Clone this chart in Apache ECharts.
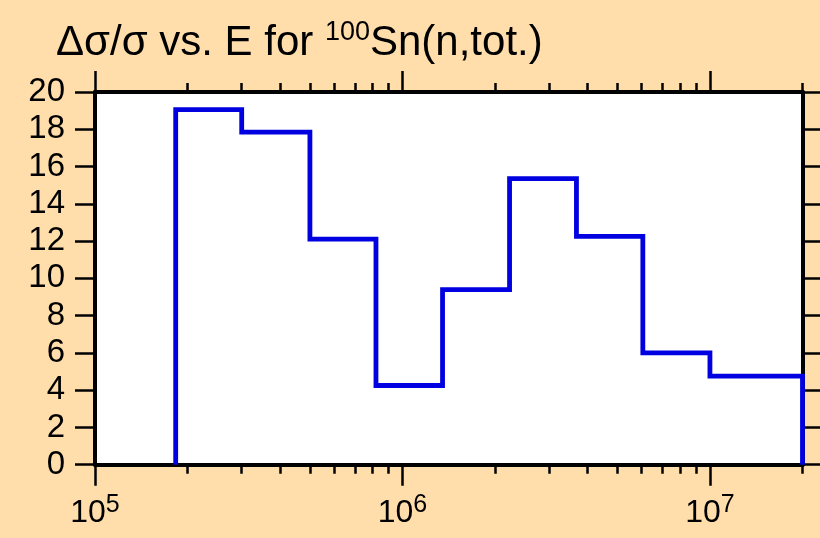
<!DOCTYPE html>
<html>
<head>
<meta charset="utf-8">
<script src="https://cdn.jsdelivr.net/npm/echarts@6/dist/echarts.min.js"></script>
<style>
html,body{margin:0;padding:0;background:#ffdeac;}
#chart{width:820px;height:538px;}
</style>
</head>
<body>
<div id="chart"></div>
<script>
// bin edges (eV) and relative uncertainty (%) per bin
const edges=[1.83e5,3e5,5e5,8.2e5,1.35e6,2.23e6,3.68e6,6.05e6,1e7,2e7]
const values=[19.05,17.85,12.1,4.25,9.4,15.35,12.25,6.0,4.75]
const majorTicks=[1e5,1e6,1e7]
const minorTicks=[2e5,3e5,4e5,5e5,6e5,7e5,8e5,9e5,2e6,3e6,4e6,5e6,6e6,7e6,8e6,9e6,2e7]

window.addEventListener('DOMContentLoaded',()=>{
    const chart=echarts.init(document.getElementById('chart'))

    // histogram outline: up at first edge, steps, down at last edge
    const pts=[[edges[0],0]]
    values.forEach((v,i)=>{ pts.push([edges[i],v]) })
    pts.push([edges[edges.length-1],values[values.length-1]])
    pts.push([edges[edges.length-1],0])

    const font='"Liberation Sans", Arial, Helvetica, sans-serif'
    const black='#000'

    function logAxis(pos,ticks,len,withLine,withLabel){
        return {
            type:'log',
            logBase:10,
            min:1e5,
            max:2e7,
            position:pos,
            axisLine:{show:withLine,lineStyle:{color:black,width:4}},
            axisTick:{show:true,inside:false,length:len,customValues:ticks,lineStyle:{color:black,width:2.5}},
            axisLabel:{
                show:withLabel,
                customValues:ticks,
                margin:28,
                color:black,
                fontFamily:font,
                formatter:(val)=>'{b|10}{e|'+Math.round(Math.log10(val))+'}',
                rich:{
                    b:{fontSize:32,lineHeight:40,fontFamily:font,color:black},
                    e:{fontSize:25,lineHeight:8,verticalAlign:'top',fontFamily:font,color:black}
                }
            },
            splitLine:{show:false},
            minorTick:{show:false},
            minorSplitLine:{show:false}
        }
    }

    function valAxis(pos,withLabel){
        return {
            type:'value',
            min:0,
            max:20,
            interval:2,
            position:pos,
            axisLine:{show:true,lineStyle:{color:black,width:4}},
            axisTick:{show:true,inside:false,length:20,lineStyle:{color:black,width:2.5}},
            axisLabel:{show:withLabel,fontSize:33,color:black,fontFamily:font,margin:30},
            splitLine:{show:false}
        }
    }

    const option={
        animation:false,
        backgroundColor:'#ffdeac',
        title:{
            text:'{a|Δσ/σ vs. E for }{s|100}{a|Sn(n,tot.)}',
            left:51,
            top:14,
            textStyle:{
                fontFamily:font,
                fontWeight:'normal',
                rich:{
                    a:{fontSize:42,lineHeight:48,fontWeight:'normal',fontFamily:font,color:black},
                    s:{fontSize:27,lineHeight:20,verticalAlign:'top',fontWeight:'normal',fontFamily:font,color:black}
                }
            }
        },
        grid:{
            left:95,
            right:17.5,
            top:92,
            bottom:73.3,
            show:true,
            backgroundColor:'#ffffff',
            borderWidth:0,
            containLabel:false,
            outerBoundsMode:'none'
        },
        xAxis:[
            logAxis('bottom',majorTicks,21,true,true),
            logAxis('bottom',minorTicks,9,false,false),
            logAxis('top',majorTicks,21,true,false),
            logAxis('top',minorTicks,9,false,false)
        ],
        yAxis:[
            valAxis('left',true),
            valAxis('right',false)
        ],
        series:[
            {
                type:'line',
                xAxisIndex:0,
                yAxisIndex:0,
                data:pts,
                step:'end',
                symbol:'none',
                clip:false,
                z:5,
                lineStyle:{color:'#0000e0',width:4.8,join:'miter'}
            }
        ]
    }

    chart.setOption(option)
})
</script>
</body>
</html>
